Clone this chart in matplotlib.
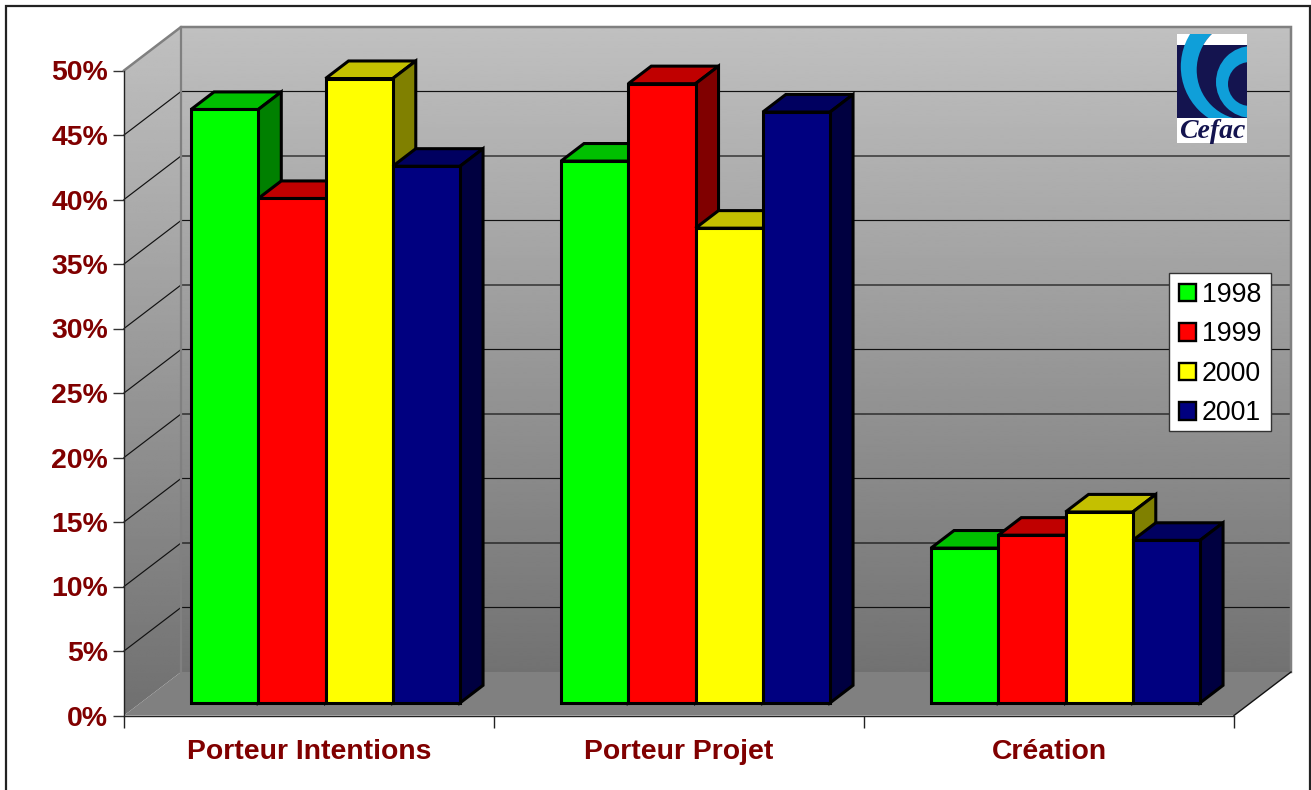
import numpy as np
import matplotlib
matplotlib.use("Agg")
import matplotlib.pyplot as plt
from matplotlib.patches import Polygon, Rectangle, Circle
from matplotlib.ticker import FuncFormatter

categories = ["Porteur Intentions", "Porteur Projet", "Création"]
years = ["1998", "1999", "2000", "2001"]
v1998 = [46.0, 42.0, 12.0]
v1999 = [39.1, 48.0, 13.0]
v2000 = [48.4, 36.8, 14.8]
v2001 = [41.6, 45.8, 12.6]
series = [v1998, v1999, v2000, v2001]
front_colors = ["#00FF00", "#FF0000", "#FFFF00", "#000080"]
top_colors = ["#00C000", "#C00000", "#C4C000", "#000060"]
side_colors = ["#008000", "#800000", "#808000", "#000040"]
yticks = list(range(0, 55, 5))

W, H = 1311, 790
plt.rcParams["font.family"] = ["Liberation Sans", "DejaVu Sans"]
fig = plt.figure(figsize=(W / 100, H / 100), dpi=100, facecolor="white")
ax = fig.add_axes([0, 0, 1, 1])
ax.patch.set_visible(False)

# axis scales: one x unit = one category (370 px), one y unit = 1 % (12.9 px)
PXX, PXY = 370.0, 12.9
X0, Y0 = 124.0, 715.5
ax.set_xlim(-X0 / PXX, (W - X0) / PXX)
ax.set_ylim(-(H - Y0) / PXY, Y0 / PXY)
DX, DY = 57.0 / PXX, 43.5 / PXY   # oblique shift of the full depth
NCAT, YMAX = len(categories), 50


def ob(x, y, d=0.0):
    return (x + d * DX, y + d * DY)


# walls with gradients
def gradient(poly, top, bottom, c_top, c_bot, z):
    xs = [p[0] for p in poly]
    g = np.linspace(c_top, c_bot, 256).reshape(-1, 1)
    im = ax.imshow(g, cmap="gray", vmin=0, vmax=1, aspect="auto", zorder=z,
                   extent=(min(xs), max(xs), bottom, top), interpolation="bilinear")
    clip = Polygon(poly, closed=True, transform=ax.transData, facecolor="none", edgecolor="none")
    ax.add_patch(clip)
    im.set_clip_path(clip)


left_wall = [ob(0, 0), ob(0, YMAX), ob(0, YMAX, 1), ob(0, 0, 1)]
back_wall = [ob(0, 0, 1), ob(0, YMAX, 1), ob(NCAT, YMAX, 1), ob(NCAT, 0, 1)]
floor = [ob(0, 0), ob(NCAT, 0), ob(NCAT, 0, 1), ob(0, 0, 1)]
gradient(left_wall, YMAX + DY, 0, 0xC0 / 255, 0x70 / 255, 1)
gradient(back_wall, YMAX + DY, DY, 0xC0 / 255, 0x72 / 255, 1)
ax.add_patch(Polygon(floor, closed=True, facecolor="#808080", edgecolor="none", zorder=1.5))
ax.set_xlim(-X0 / PXX, (W - X0) / PXX)
ax.set_ylim(-(H - Y0) / PXY, Y0 / PXY)

# gridlines
for v in yticks[1:-1]:
    a, b, c = ob(0, v), ob(0, v, 1), ob(NCAT, v, 1)
    ax.plot([a[0], b[0], c[0]], [a[1], b[1], c[1]], color="#111111", lw=0.85, zorder=2)
# wall frame
edge = [ob(0, YMAX), ob(0, YMAX, 1), ob(NCAT, YMAX, 1), ob(NCAT, 0, 1), ob(NCAT, 0)]
ax.plot(*zip(*edge[:-1]), color="#808080", lw=1.8, zorder=2.1, solid_joinstyle="miter")
ax.plot(*zip(ob(0, 0, 1), ob(0, YMAX, 1)), color="#808080", lw=1.6, zorder=2.1)
ax.plot(*zip(ob(NCAT, 0, 1), ob(NCAT, 0)), color="#111111", lw=1.0, zorder=2.2)

# bars
D_FRONT, D_BAR = 0.29, 23.0 / 57.0
GROUP = 269.0 / 370.0
BW = GROUP / len(series)
LW = 2.2
z = 3.0
for i in range(NCAT):
    for s, vals in enumerate(series):
        v = vals[i]
        xl = i + 0.5 - GROUP / 2 + s * BW + D_FRONT * DX
        xr = xl + BW
        base = D_FRONT * DY
        top = base + v
        ddx, ddy = D_BAR * DX, D_BAR * DY
        ax.add_patch(Polygon([(xl, top), (xr, top), (xr + ddx, top + ddy), (xl + ddx, top + ddy)],
                             closed=True, facecolor=top_colors[s], edgecolor="black", lw=LW,
                             joinstyle="miter", zorder=z))
        ax.add_patch(Polygon([(xr, base), (xr + ddx, base + ddy), (xr + ddx, top + ddy), (xr, top)],
                             closed=True, facecolor=side_colors[s], edgecolor="black", lw=LW,
                             joinstyle="miter", zorder=z))
        ax.bar(xl, v, BW, bottom=base, align="edge", color=front_colors[s], edgecolor="black",
               linewidth=LW, zorder=z + 0.01, label=years[s] if i == 0 else None)
        z += 0.1

# axes
for sp in ("top", "right"):
    ax.spines[sp].set_visible(False)
ax.spines["left"].set_position(("data", 0))
ax.spines["left"].set_bounds(0, YMAX)
ax.spines["bottom"].set_position(("data", 0))
ax.spines["bottom"].set_bounds(0, NCAT)
for sp in ("left", "bottom"):
    ax.spines[sp].set_color("#222222")
    ax.spines[sp].set_linewidth(1.0)
    ax.spines[sp].set_zorder(2.3)

ax.set_yticks(yticks)
ax.yaxis.set_major_formatter(FuncFormatter(lambda v, _: f"{int(v)}%"))
ax.tick_params(axis="y", length=11 * 0.72, width=1.0, color="#333333", pad=3.6,
               labelsize=20.4, labelcolor="#800000")
ax.set_xticks(range(NCAT + 1))
ax.set_xticklabels([])
ax.set_xticks([i + 0.5 for i in range(NCAT)], minor=True)
ax.set_xticklabels(categories, minor=True)
ax.tick_params(axis="x", which="major", length=12 * 0.72, width=1.0, color="#222222")
ax.tick_params(axis="x", which="minor", length=0, pad=17, labelsize=20.4, labelcolor="#800000")
for t in ax.get_yticklabels() + ax.get_xticklabels(minor=True):
    t.set_fontweight("bold")

# legend: frame drawn separately so the box can hug the rows
ax.add_patch(Rectangle((1169 / W, 1 - 431 / H), 102 / W, 158 / H, transform=fig.transFigure,
                       facecolor="white", edgecolor="#333333", lw=1.0, zorder=19))
leg = ax.legend(loc="upper left", bbox_to_anchor=(1179 / W, 1 - 282 / H), bbox_transform=fig.transFigure,
                fontsize=19.3, frameon=False, borderaxespad=0, handlelength=0.63, handleheight=0.63,
                handletextpad=0.22, labelspacing=0.5, borderpad=0)
leg.set_zorder(20)
for h in leg.legend_handles:
    h.set_linewidth(1.7)

# outer border
fig.add_artist(Rectangle((6.5 / W, -0.05), (1310 - 6.5) / W, 1.05 - 6 / H, transform=fig.transFigure,
                         fill=False, edgecolor="#222222", lw=1.6))

# logo
CYAN, NAVY = "#0F9FD9", "#14144F"
lg = fig.add_axes([1177 / W, 1 - 143 / H, 70 / W, 109 / H], zorder=15)
lg.set_xlim(1177, 1247)
lg.set_ylim(143, 34)
lg.axis("off")
lg.add_patch(Rectangle((1177, 34), 70, 109, facecolor="white", edgecolor="none", zorder=0))
lg.add_patch(Rectangle((1177, 45), 70, 73, facecolor=NAVY, edgecolor="none", zorder=1))
lg.add_patch(Circle((1242.5, 66.6), 61.7, facecolor=CYAN, edgecolor="none", zorder=2))
lg.add_patch(Circle((1246.7, 69.9), 50, facecolor=NAVY, edgecolor="none", zorder=3))
above = Rectangle((1177, 34), 70, 11, transform=lg.transData)
top_white = Circle((1246.7, 69.9), 50, facecolor="white", edgecolor="none", zorder=3.1)
lg.add_patch(top_white)
top_white.set_clip_path(above)
lg.add_patch(Circle((1252, 82), 36, facecolor=CYAN, edgecolor="none", zorder=4))
lg.add_patch(Circle((1250, 84), 22, facecolor=NAVY, edgecolor="none", zorder=5))
lg.add_patch(Rectangle((1177, 118), 70, 25, facecolor="white", edgecolor="none", zorder=6))
lg.text(1212, 131.5, "Cefac", family="Liberation Serif", style="italic", weight="bold", fontsize=20,
        color=NAVY, ha="center", va="center", zorder=7)

fig.savefig("out.png", dpi=100, facecolor="white")
